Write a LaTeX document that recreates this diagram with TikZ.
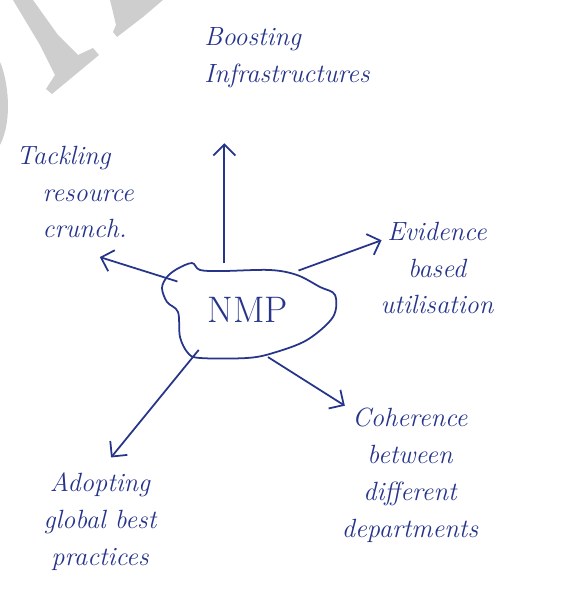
\documentclass[tikz,border=0pt]{standalone}
\usepackage{tikz}
\usetikzlibrary{positioning,shapes.geometric,arrows.meta}
\definecolor{ink}{RGB}{38,52,138}
\definecolor{wmgrey}{RGB}{206,206,206}
\tikzset{main node/.style={ellipse,minimum width=3.48cm,minimum height=1.92cm,inner sep=0pt,text=ink,font=\fontsize{21}{24}\selectfont},}
\tikzstyle{ann} = [text=ink,font=\fontsize{15}{21}\selectfont\itshape,align=center,inner sep=1pt]
\tikzstyle{arr} = [ink, line width=1pt, -{Straight Barb[length=2.2mm,width=4.4mm]}]

\begin{document}
\begin{tikzpicture}[scale=1]
    \useasboundingbox (-4.96,-5.98) rectangle (6.40,6.20);
    % watermark
    \fill[wmgrey] (-4.70,6.20) -- (-4.30,6.20) -- (-3.80,5.50) -- (-3.40,5.10) -- (-3.10,5.24)
        -- (-2.98,5.10) -- (-3.92,4.32) -- (-4.04,4.42) -- (-3.86,4.70) -- (-4.16,5.30) -- cycle;
    \fill[wmgrey] (-2.76,6.20) -- (-1.70,6.20) -- (-2.10,5.86) -- (-2.62,5.46) -- (-2.70,5.56)
        -- (-2.64,5.70) -- (-2.72,6.04) -- cycle;
    \fill[wmgrey] (-4.96,4.96) .. controls (-4.80,4.60) and (-4.70,3.80) .. (-4.96,3.30) -- cycle;

    \node[main node] (0) at (0,0) {NMP};
    \draw[ink, line width=1pt] plot[smooth cycle, tension=0.55] coordinates {
        (-1.62,0.66) (-1.42,0.82) (-1.12,0.94) (-0.96,0.80) (-0.50,0.78) (0.44,0.80)
        (0.98,0.70) (1.44,0.46) (1.74,0.30) (1.70,-0.14) (1.18,-0.60) (0.50,-0.86)
        (-0.02,-0.96) (-0.96,-0.96) (-1.20,-0.86) (-1.36,-0.54) (-1.40,-0.04)
        (-1.62,0.16) (-1.72,0.44)};

    \node[ann, align=left] (1) at (0.78,5.04) {Boosting\\Infrastructures};
    \node[ann, align=left] (2) at (-3.46,2.36) {Tackling\\\quad resource\\\quad crunch.};
    \node[ann] (3) at (3.78,0.84) {Evidence\\based\\utilisation};
    \node[ann] (4) at (-2.96,-4.24) {Adopting\\global best\\practices};
    \node[ann] (5) at (3.24,-3.30) {Coherence\\between\\different\\departments};

    \draw[arr, shorten >=1.06cm] (0.117) -- (0.117 |- 1.south);
    \draw[arr, shorten >=0.52cm] (0.158) -- ([yshift=-0.18cm]2.south);
    \draw[arr] (0.38) -- ([xshift=0.06cm,yshift=-0.12cm]3.150);
    \draw[arr, shorten >=0.35cm] (0.219) -- (4.north);
    \draw[arr] (0.-67) -- ([xshift=0.1cm]5.north west);
\end{tikzpicture}
\end{document}
